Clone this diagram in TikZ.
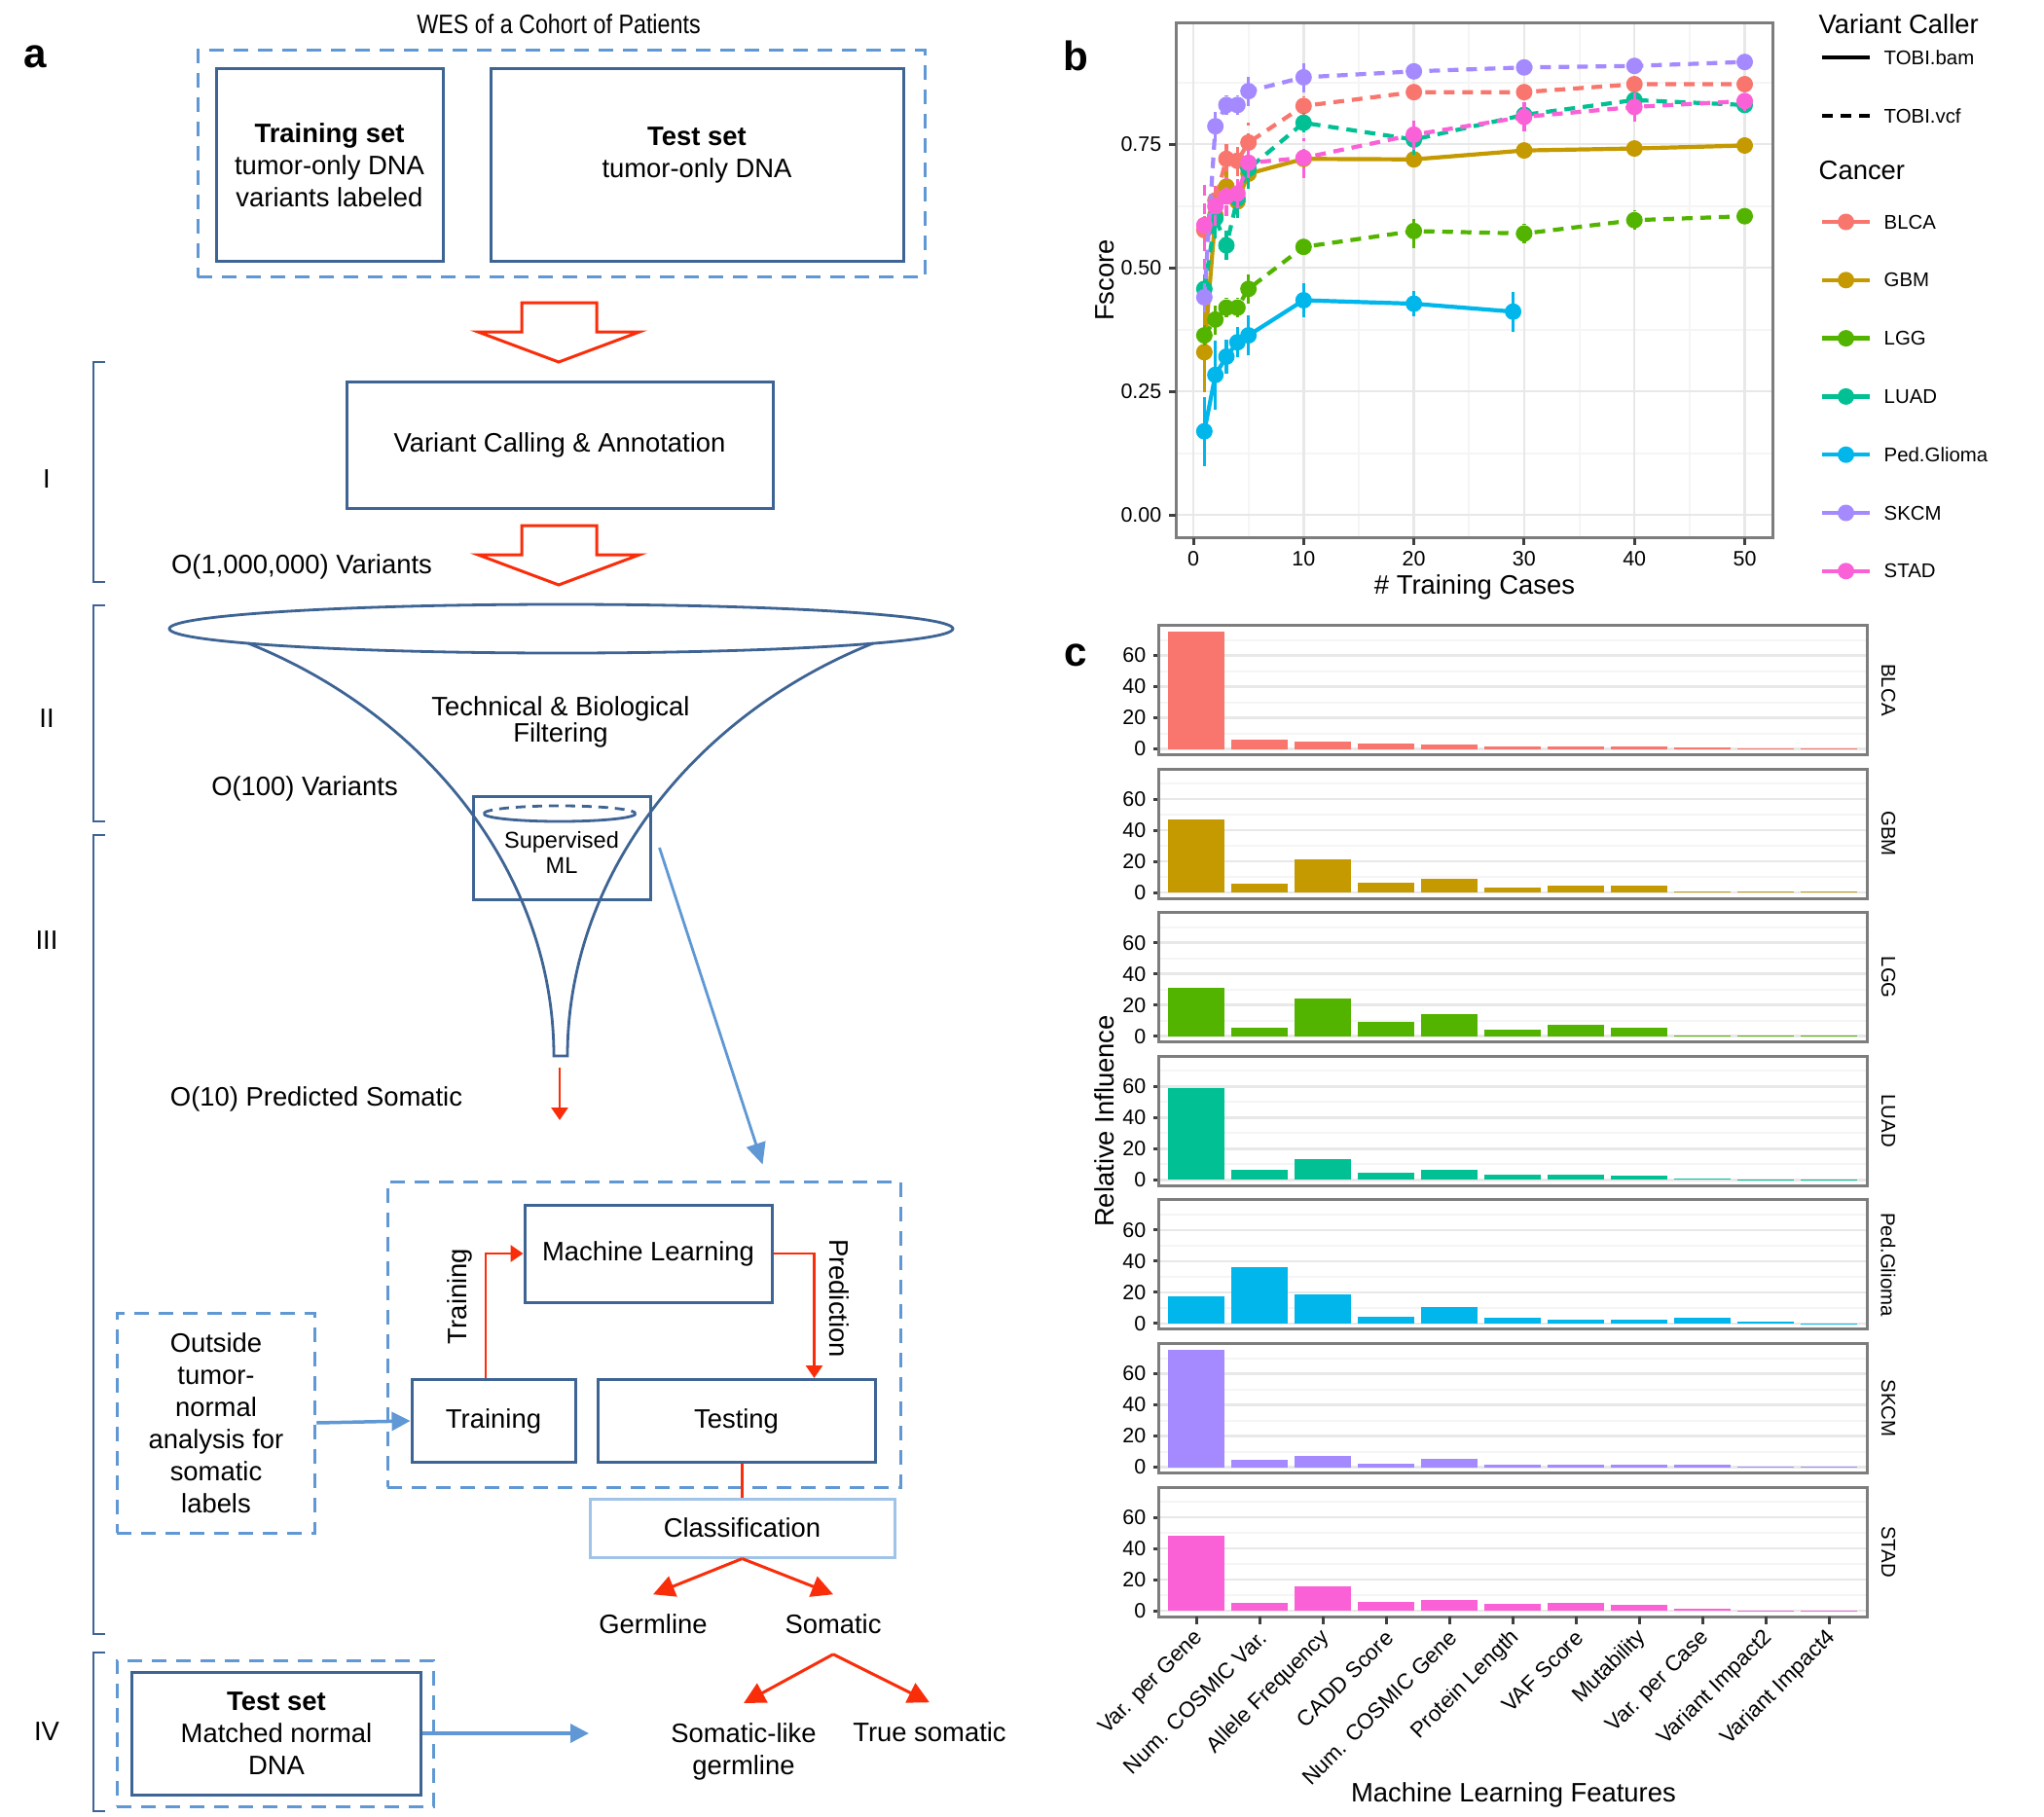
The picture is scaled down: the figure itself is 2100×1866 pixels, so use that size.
\documentclass[tikz,border=0pt]{standalone}
\usepackage{graphicx}
\usepackage{fontspec}
\setmainfont{Liberation Sans}
\usetikzlibrary{arrows.meta,calc}

\definecolor{boxblue}{RGB}{62,100,148}
\definecolor{dashblue}{RGB}{95,152,212}
\definecolor{lightblue}{RGB}{160,195,232}
\definecolor{flowred}{RGB}{250,45,10}
\definecolor{panelgray}{RGB}{125,125,125}
\definecolor{gridmajor}{RGB}{232,232,232}
\definecolor{gridminor}{RGB}{245,245,245}
\definecolor{blca}{HTML}{F8766D}
\definecolor{gbm}{HTML}{C49A00}
\definecolor{lgg}{HTML}{53B400}
\definecolor{luad}{HTML}{00C094}
\definecolor{pedg}{HTML}{00B6EB}
\definecolor{skcm}{HTML}{A58AFF}
\definecolor{stad}{HTML}{FB61D7}

\newcommand{\fmain}{\fontsize{7.8}{9.4}\selectfont}
\newcommand{\fsmall}{\fontsize{6.7}{7.6}\selectfont}
\newcommand{\fpanel}{\fontsize{12}{14}\selectfont\bfseries}
\newcommand{\ftick}{\fontsize{6.1}{7}\selectfont}
\newcommand{\faxis}{\fontsize{7.8}{9}\selectfont}
\newcommand{\fleg}{\fontsize{5.8}{7}\selectfont}
\newcommand{\ffeat}{\fontsize{6.4}{7}\selectfont}

\tikzset{
  solidbox/.style={draw=boxblue, line width=0.3mm, align=center, font=\fmain, inner sep=0pt},
  dashbox/.style={draw=dashblue, line width=0.3mm, dash pattern=on 1.5mm off 1mm, align=center, font=\fmain},
  flowtext/.style={font=\fmain, align=center},
  hollow/.style={draw=flowred, line width=0.3mm, fill=white},
  redflow/.style={draw=flowred, line width=0.28mm, -{Triangle[length=1.3mm,width=1.7mm]}},
  redsplit/.style={draw=flowred, line width=0.3mm, -{Triangle[length=2.2mm,width=2.2mm]}},
  blueflow/.style={draw=dashblue, line width=0.35mm, -{Triangle[length=1.9mm,width=1.9mm]}},
  stagebracket/.style={draw=boxblue, line width=0.25mm},
  funnel/.style={draw=boxblue, line width=0.28mm},
  ticklabel/.style={font=\ftick, inner sep=0pt},
  axtitle/.style={font=\faxis},
  legtext/.style={font=\fleg, inner sep=0pt, anchor=west},
  legtitle/.style={font=\faxis, inner sep=0pt, anchor=west},
  dataline/.style={line width=0.42mm, line join=round},
  errbar/.style={line width=0.32mm},
  vcfdash/.style={dash pattern=on 1.1mm off 0.8mm},
  gridmaj/.style={draw=gridmajor, line width=0.25mm},
  gridmin/.style={draw=gridminor, line width=0.2mm},
  axistick/.style={draw=black!75, line width=0.3mm},
  plotframe/.style={draw=panelgray, line width=0.3mm},
}

% hollow block arrow: centre x, top y
\newcommand{\blockarrow}[2]{%
  \draw[hollow] (#1-38,#2) -- (#1+39,#2) -- (#1+39,#2+30) -- (#1+83,#2+30)
    -- (#1,#2+61) -- (#1-83,#2+30) -- (#1-38,#2+30) -- cycle;}

% one F-score series: colour, line type, x/y/err list
\newcommand{\fseries}[3]{%
  \gdef\fpath{}%
  \foreach \px/\py/\pe in {#3} {\xdef\fpath{\fpath (\px,\py)}}%
  \edef\fdraw{\noexpand\draw[#1, #2, dataline] plot coordinates {\fpath};}%
  \fdraw
  \foreach \px/\py/\pe in {#3} {%
    \draw[#1, #2, errbar] (\px,\py-\pe) -- (\px,\py+\pe);
    \fill[#1] (\px,\py) circle (0.85mm);
  }%
}

\begin{document}
\begin{tikzpicture}[x=0.1mm, y=-0.1mm]
  \path[use as bounding box, fill=white] (0,0) rectangle (2100,1866);

  %% ---------------- panel a ----------------
  \node[font=\fpanel] (pa) at (36,58) {a};
  \node[font=\fmain] (wes) at (574,25) {\scalebox{0.85}[1]{WES of a Cohort of Patients}};
  \node[dashbox, minimum width=74.7mm, minimum height=23.3mm] (cohort) at (576.5,168.5) {};
  \node[solidbox, minimum width=23.3mm, minimum height=19.8mm] (trainset) at (338.5,170)
    {\textbf{Training set}\\tumor-only DNA\\variants labeled};
  \node[solidbox, minimum width=42.4mm, minimum height=19.8mm] (testset) at (716,170) {};
  \node[flowtext] (testsettxt) at (716,159) {\textbf{Test set}\\tumor-only DNA};

  \blockarrow{574}{311}
  \node[solidbox, minimum width=43.8mm, minimum height=13mm] (varcall) at (575,457)
    {Variant Calling \& Annotation};
  \blockarrow{574}{540}
  \node[flowtext] (mvar) at (310,582) {O(1,000,000) Variants};

  % stages
  \foreach \ytop/\ybot/\ylab/\rom in {372/598/492/I, 622/844/738/II, 858/1679/966/III, 1698/1861/1779/IV} {
    \draw[stagebracket] (108,\ytop) -- (96,\ytop) -- (96,\ybot) -- (108,\ybot);
    \node[flowtext] (stage\rom) at (48,\ylab) {\rom};
  }

  % funnel
  \draw[funnel] (576.5,646) ellipse [x radius=40.25mm, y radius=2.5mm];
  \draw[funnel] (255,661) .. controls (440,735) and (569,900) .. (569,1085)
    -- (583,1085) .. controls (583,900) and (712,735) .. (897,661);
  \node[flowtext, font=\fontsize{7.8}{7.5}\selectfont] (filter) at (576,742) {Technical \& Biological\\Filtering};
  \node[flowtext] (hvar) at (313,810) {O(100) Variants};
  \node[solidbox, minimum width=18.2mm, minimum height=10.6mm] (supml) at (577,871) {};
  \draw[funnel, dash pattern=on 1mm off 0.7mm] (497,836) arc [start angle=180, end angle=0, x radius=7.8mm, y radius=0.8mm];
  \draw[funnel] (653,836) arc [start angle=0, end angle=-180, x radius=7.8mm, y radius=0.8mm];
  \node[font=\fsmall, align=center] (supmltxt) at (577,876) {Supervised\\ML};

  \coordinate (funneltip) at (575,1097);
  \coordinate (somdrop) at (575,1151);
  \draw[redflow] (funneltip) -- (somdrop);
  \node[flowtext] (tenvar) at (325,1129) {O(10) Predicted Somatic};

  % machine learning frame
  \node[dashbox, minimum width=52.7mm, minimum height=31.4mm] (mlframe) at (661.5,1371) {};
  \node[solidbox, minimum width=25.4mm, minimum height=10mm] (mlearn) at (666,1288) {Machine Learning};
  \node[solidbox, minimum width=16.8mm, minimum height=8.5mm] (training) at (507,1460) {Training};
  \node[solidbox, minimum width=28.5mm, minimum height=8.5mm] (testing) at (756.5,1460) {Testing};
  \node[solidbox, draw=lightblue, minimum width=31.3mm, minimum height=6mm] (classif) at (762.5,1570) {Classification};

  \coordinate (mlentry) at ($(mlframe.north)+(122,-16)$);
  \draw[blueflow, line width=0.28mm, -{Triangle[length=2.2mm,width=2mm]}] ([xshift=0.8mm]supml.east) -- (mlentry);

  \draw[redflow] ([xshift=-0.8mm]training.north) |- (mlearn.west);
  \node[flowtext, rotate=90] (trainlbl) at (472,1332) {Training};
  \coordinate (predin) at ($(testing.north)+(80,0)$);
  \draw[redflow] (mlearn.east) -| (predin);
  \node[flowtext, rotate=-90] (predlbl) at (862,1334) {Prediction};
  \draw[draw=flowred, line width=0.28mm] (testing.south -| classif.north) -- (classif.north);

  \node[dashbox, minimum width=20.35mm, minimum height=22.6mm] (outside) at (222,1462)
    {Outside\\tumor-\\normal\\analysis for\\somatic\\labels};
  \draw[blueflow] (outside.east) -- (training.west);

  % outcomes
  \node[flowtext, inner sep=2mm] (germ) at (671,1669) {Germline};
  \node[flowtext, inner sep=2mm] (soma) at (856,1669) {Somatic};
  \node[flowtext, inner sep=2mm] (somlike) at (764,1800) {Somatic-like\\germline};
  \node[flowtext, inner sep=2mm] (truesom) at (955,1780) {True somatic};
  \draw[redsplit] (classif.south) -- (germ.north);
  \draw[redsplit] (classif.south) -- (soma.north);
  \draw[redsplit] (soma.south) -- (somlike.north);
  \draw[redsplit] (soma.south) -- (truesom.north);

  % matched normal
  \node[dashbox, minimum width=32.55mm, minimum height=15mm] (normframe) at (283,1781) {};
  \node[solidbox, minimum width=29.65mm, minimum height=12.6mm] (normset) at (284,1781)
    {\textbf{Test set}\\Matched normal\\DNA};
  \coordinate (normout) at (605,1781);
  \draw[blueflow] (normset.east) -- (normout);

  %% ---------------- panel b ----------------
  \node[font=\fpanel] (pb) at (1105,57) {b};
  \begin{scope}[shift={(1226,529)}, x=1.133mm, y=50.8mm]
    \foreach \gx in {5,15,...,45} \draw[gridmin] (\gx,-0.047) -- (\gx,0.996);
    \foreach \gy in {0.125,0.375,0.625,0.875} \draw[gridmin] (-1.59,\gy) -- (52.6,\gy);
    \foreach \gx in {0,10,...,50} \draw[gridmaj] (\gx,-0.047) -- (\gx,0.996);
    \foreach \gy in {0,0.25,0.5,0.75} \draw[gridmaj] (-1.59,\gy) -- (52.6,\gy);

    \fseries{blca}{vcfdash}{1/.576/.03, 2/.636/.03, 3/.72/.03, 4/.716/.03, 5/.753/.04, 10/.827/.02, 20/.855/.01, 30/.855/.01, 40/.871/.01, 50/.871/.01}
    \fseries{gbm}{solid}{1/.329/.08, 2/.606/.04, 3/.664/.03, 4/.634/.03, 5/.69/.02, 10/.72/.02, 20/.719/.01, 30/.737/.01, 40/.741/.01, 50/.747/.01}
    \fseries{lgg}{vcfdash}{1/.363/.02, 2/.395/.03, 3/.419/.02, 4/.419/.02, 5/.457/.03, 10/.542/.01, 20/.574/.035, 30/.569/.02, 40/.596/.02, 50/.604/.01}
    \fseries{luad}{vcfdash}{1/.457/.03, 2/.60/.04, 3/.545/.03, 4/.64/.04, 5/.70/.04, 10/.793/.02, 20/.759/.03, 30/.809/.02, 40/.839/.01, 50/.829/.01}
    \fseries{pedg}{solid}{1/.169/.07, 2/.283/.07, 3/.32/.035, 4/.349/.03, 5/.363/.04, 10/.434/.035, 20/.427/.025, 29/.411/.04}
    \fseries{skcm}{vcfdash}{1/.44/.03, 2/.786/.03, 3/.829/.02, 4/.829/.02, 5/.857/.03, 10/.885/.03, 20/.897/.01, 30/.905/.01, 40/.908/.01, 50/.916/.01}
    \fseries{stad}{vcfdash}{1/.586/.09, 2/.624/.04, 3/.644/.04, 4/.65/.03, 5/.712/.03, 10/.722/.04, 20/.769/.03, 30/.805/.03, 40/.825/.03, 50/.837/.02}

    \draw[plotframe] (-1.59,-0.047) rectangle (52.6,0.996);
    \foreach \gx in {0,10,...,50} {
      \draw[axistick] (\gx,-0.047) -- ++(0pt,-0.7mm);
      \node[ticklabel, anchor=north, yshift=-1.3mm] (bx\gx) at (\gx,-0.047) {\gx};
    }
    \foreach \gy/\lab [count=\i] in {0/0.00, 0.25/0.25, 0.5/0.50, 0.75/0.75} {
      \draw[axistick] (-1.59,\gy) -- ++(-0.7mm,0pt);
      \node[ticklabel, anchor=east, xshift=-1.4mm] (by\i) at (-1.59,\gy) {\lab};
    }
  \end{scope}
  \node[axtitle, rotate=90] (fscore) at (1135,288) {Fscore};
  \node[axtitle] (tcases) at (1515,603) {\# Training Cases};

  % legend
  \node[legtitle] (vclab) at (1868,25) {Variant Caller};
  \draw[black, line width=0.42mm] (1872,59) -- (1921,59);
  \node[legtext] (bamlab) at (1935,59) {TOBI.bam};
  \draw[black, line width=0.42mm, vcfdash] (1872,119) -- (1921,119);
  \node[legtext] (vcflab) at (1935,119) {TOBI.vcf};
  \node[legtitle] (canlab) at (1868,175) {Cancer};
  \foreach \nm/\cl [count=\i from 0] in {BLCA/blca, GBM/gbm, LGG/lgg, LUAD/luad, Ped.Glioma/pedg, SKCM/skcm, STAD/stad} {
    \draw[\cl, line width=0.45mm] (1872,228+59.8*\i) -- (1921,228+59.8*\i);
    \fill[\cl] (1896.5,228+59.8*\i) circle (0.85mm);
    \node[legtext] (leg\cl) at (1935,228+59.8*\i) {\nm};
  }

  %% ---------------- panel c ----------------
  \node[font=\fpanel] (pc) at (1105,673) {c};
  \foreach \nm/\cl/\vals [count=\i from 0] in {
      BLCA/blca/{75.6,6.2,4.9,3.5,2.7,1.8,1.8,1.3,1.0,0.2,0.2},
      GBM/gbm/{46.7,5.4,21.3,6.4,8.9,3.2,4.4,4.4,0.5,0.5,0.5},
      LGG/lgg/{30.9,5.2,24.3,9.1,14.1,4.4,7.4,5.4,0.4,0.3,0.3},
      LUAD/luad/{58.8,6.4,13.6,4.4,6.7,3.4,3.2,2.5,0.7,0.5,0.4},
      Ped.Glioma/pedg/{17.5,36.4,18.5,4.6,10.8,3.9,2.3,2.5,3.9,1.1,0.2},
      SKCM/skcm/{75.2,4.9,7.2,2.3,5.4,1.5,1.8,1.4,1.4,0.1,0.1},
      STAD/stad/{48.2,5.1,15.4,5.9,7.2,4.3,5.1,4.0,1.6,0.2,0.2}} {
    \begin{scope}[shift={(1229,769.5+147.6*\i)}, x=6.5mm, y=0.16mm]
      \foreach \gy in {10,30,50,70} \draw[gridmin] (-0.585,\gy) -- (10.6,\gy);
      \foreach \gy in {0,20,40,60} {
        \draw[gridmaj] (-0.585,\gy) -- (10.6,\gy);
        \draw[axistick] (-0.585,\gy) -- ++(-0.6mm,0pt);
        \node[ticklabel, anchor=east, xshift=-1.3mm] (cy\i\gy) at (-0.585,\gy) {\gy};
      }
      \foreach \v [count=\k from 0] in \vals
        \fill[\cl] (\k-0.45,0) rectangle (\k+0.45,\v);
      \draw[plotframe] (-0.585,-3.75) rectangle (10.6,79.4);
    \end{scope}
    \node[font=\fleg, rotate=-90] (strip\cl) at (1940,709+147.6*\i) {\nm};
  }
  \foreach \feat [count=\k from 0] in {Var. per Gene, Num. COSMIC Var., Allele Frequency, CADD Score,
      Num. COSMIC Gene, Protein Length, VAF Score, Mutability, Var. per Case, Variant Impact2, Variant Impact4} {
    \draw[axistick] (1229+65*\k,1661) -- (1229+65*\k,1669);
    \node[font=\ffeat, rotate=45, anchor=east, inner sep=0pt] (feat\k) at (1233+65*\k,1679) {\feat};
  }
  \node[axtitle, rotate=90] (relinf) at (1135,1152) {Relative Influence};
  \node[axtitle] (mlfeat) at (1555,1844) {Machine Learning Features};
\end{tikzpicture}
\end{document}
